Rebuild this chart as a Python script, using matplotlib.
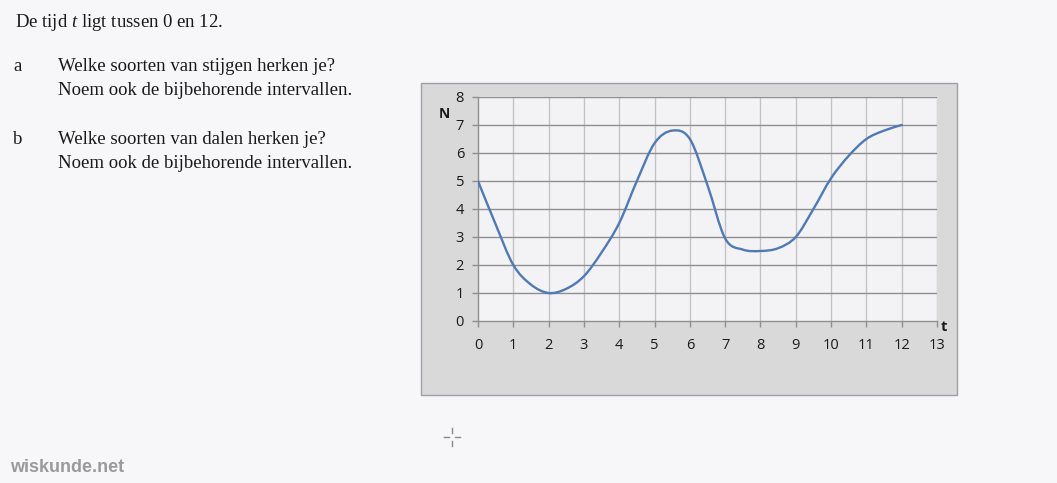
import matplotlib
matplotlib.use("Agg")
import matplotlib.pyplot as plt
import numpy as np
from matplotlib.path import Path
from matplotlib.patches import PathPatch, Rectangle
from matplotlib.lines import Line2D

# values
t_vals = [0, 0.5, 1, 1.5, 2, 2.5, 3, 3.5, 4, 4.5, 5, 5.5, 6, 6.5, 7, 7.5, 8,
          8.5, 9, 9.5, 10, 10.5, 11, 11.5, 12]
n_vals = [5.0, 3.45, 2.0, 1.3, 1.0, 1.15, 1.6, 2.45, 3.5, 5.0, 6.35, 6.8, 6.5,
          4.85, 2.95, 2.55, 2.5, 2.6, 3.0, 4.0, 5.1, 5.9, 6.5, 6.8, 7.0]
x_ticks = list(range(0, 14))
y_ticks = list(range(0, 9))

W, H = 1057, 483
BG = "#f7f6f9"

plt.rcParams["mathtext.fontset"] = "custom"
plt.rcParams["mathtext.rm"] = "Liberation Serif"
plt.rcParams["mathtext.it"] = "Liberation Serif:italic"

fig = plt.figure(figsize=(W / 100, H / 100), dpi=100, facecolor=BG)


def fx(px):
    return px / W


def fy(py):
    return 1 - py / H


# question text
serif = dict(family="Liberation Serif", fontsize=13.5, color="#1a1a1a")
fig.text(fx(15), fy(27), "De tijd $t$ ligt tussen 0 en 12.", **serif)
fig.text(fx(13), fy(71), "a", **serif)
fig.text(fx(58), fy(71), "Welke soorten van stijgen herken je?", **serif)
fig.text(fx(58), fy(95), "Noem ook de bijbehorende intervallen.", **serif)
fig.text(fx(13), fy(144), "b", **serif)
fig.text(fx(58), fy(144), "Welke soorten van dalen herken je?", **serif)
fig.text(fx(58), fy(168), "Noem ook de bijbehorende intervallen.", **serif)

fig.text(fx(10), fy(472), "wiskunde.net", family="Liberation Sans",
         fontweight="bold", fontsize=13, color="#9a9a9a")

# small cursor cross
for seg in [((444, 449), (437, 437)), ((455, 460), (437, 437)),
            ((452, 452), (428, 433)), ((452, 452), (441, 446))]:
    fig.add_artist(Line2D([fx(seg[0][0]), fx(seg[0][1])],
                          [fy(seg[1][0]), fy(seg[1][1])],
                          color="#888888", lw=1, transform=fig.transFigure))

# gray chart box
fig.add_artist(Rectangle((fx(421), fy(395)), fx(957) - fx(421), fy(83) - fy(395),
                         facecolor="#d9d9d9", edgecolor="#a0a0a0", lw=1,
                         transform=fig.transFigure, zorder=0))

ax = fig.add_axes([fx(478), fy(321), fx(937) - fx(478), fy(97) - fy(321)])
ax.set_facecolor("#f3f2f5")
ax.set_xlim(0, 13)
ax.set_ylim(0, 8)

for x in x_ticks[1:]:
    ax.axvline(x, color="#c4c4c4", lw=1, zorder=1)
for y in y_ticks[1:]:
    ax.axhline(y, color="#8f8f8f", lw=1, zorder=1)

# smooth line through the points (Catmull-Rom as cubic Bezier)
pts = np.column_stack([t_vals, n_vals])
verts = [pts[0]]
codes = [Path.MOVETO]
for i in range(len(pts) - 1):
    p0 = pts[max(i - 1, 0)]
    p1 = pts[i]
    p2 = pts[i + 1]
    p3 = pts[min(i + 2, len(pts) - 1)]
    c1 = p1 + (p2 - p0) / 6
    c2 = p2 - (p3 - p1) / 6
    verts += [c1, c2, p2]
    codes += [Path.CURVE4] * 3
ax.add_patch(PathPatch(Path(verts, codes), facecolor="none",
                       edgecolor="#4f7ab5", lw=1.7, zorder=3, capstyle="round"))

for s in ["top", "right"]:
    ax.spines[s].set_visible(False)
for s in ["left", "bottom"]:
    ax.spines[s].set_color("#8f8f8f")
    ax.spines[s].set_linewidth(1)

ax.set_xticks(x_ticks)
ax.set_yticks(y_ticks)
ax.tick_params(axis="both", colors="#8f8f8f", labelcolor="#1a1a1a",
               labelsize=10.5, length=4, width=1, direction="out")
ax.tick_params(axis="x", pad=8)
ax.tick_params(axis="y", pad=6)
for lab in ax.get_xticklabels() + ax.get_yticklabels():
    lab.set_family("Open Sans")

fig.text(fx(444), fy(114), "N", family="Open Sans", fontweight="bold",
         fontsize=10, color="#1a1a1a", ha="center", va="center")
fig.text(fx(944), fy(327), "t", family="Open Sans", fontweight="bold",
         fontsize=10.5, color="#1a1a1a", ha="center", va="center")

fig.savefig("out.png", dpi=100, facecolor=BG)
